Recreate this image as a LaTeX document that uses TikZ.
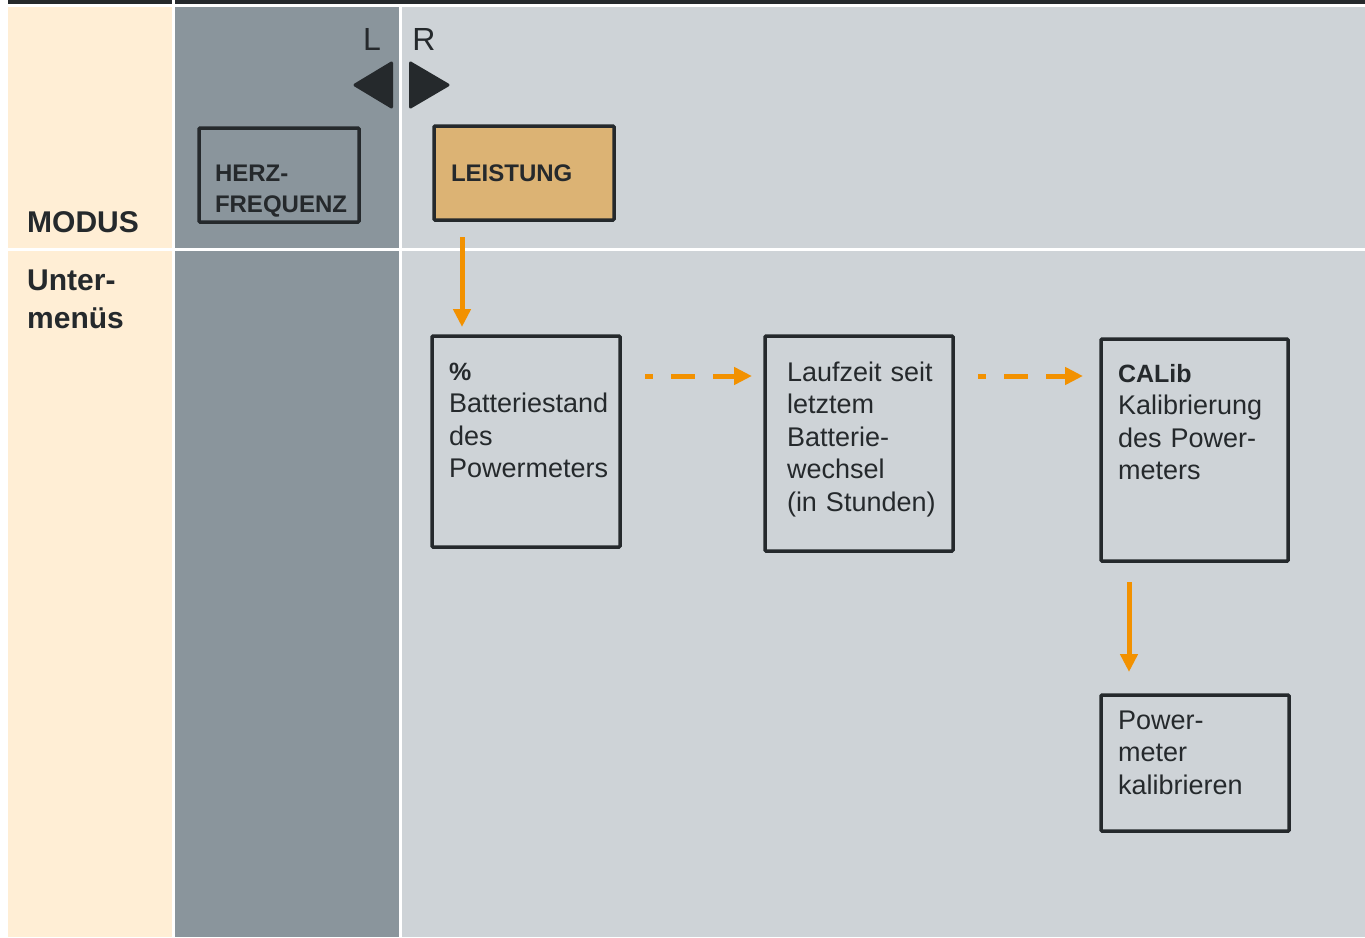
\documentclass[tikz,border=0pt]{standalone}
\usepackage{fontspec}
\setmainfont{Liberation Sans}
\usepackage{xcolor}
\usepackage{tikz}
\usetikzlibrary{arrows.meta}
\definecolor{ink}{HTML}{25292C}
\definecolor{cream}{HTML}{FFEED5}
\definecolor{slate}{HTML}{8A959C}
\definecolor{mist}{HTML}{CED3D7}
\definecolor{modetan}{HTML}{DCB374}
\definecolor{signal}{HTML}{F29100}
\newcommand{\bodyfont}{\fontsize{27}{32.5}\selectfont}
\newcommand{\boldfont}{\fontsize{25}{32.5}\selectfont\bfseries}
\newcommand{\capsfont}{\fontsize{24}{31}\selectfont\bfseries}
\newcommand{\headfont}{\fontsize{30}{38}\selectfont\bfseries}
\hyphenpenalty=10000

\begin{document}
\begin{tikzpicture}[x=1pt, y=-1pt,
    menubox/.style={draw=ink, line width=3.5pt, rounded corners=1pt, anchor=north west,
                    outer sep=0pt, inner xsep=17pt, inner ysep=0pt, align=left,
                    text=ink, font=\bodyfont},
    modebox/.style={menubox, font=\capsfont},
    rowlabel/.style={anchor=base west, inner sep=0pt, text=ink, font=\headfont},
    flow/.style={draw=signal, line width=5pt, -{Triangle[length=18pt, width=17pt]}},
    skip/.style={flow, dash pattern=on 24pt off 18pt, dash phase=16pt}]
  \useasboundingbox (0,0) rectangle (1365,937);
  \fill[white] (0,0) rectangle (1365,937);

  % columns and rows
  \fill[ink] (8,0) rectangle (172,4);
  \fill[ink] (175,0) rectangle (1365,4);
  \foreach \top/\bot in {7/248, 251/937} {
    \fill[cream] (8,\top) rectangle (172,\bot);
    \fill[slate] (175,\top) rectangle (399,\bot);
    \fill[mist] (402,\top) rectangle (1365,\bot);
  }

  \node[rowlabel] (modus) at (27,232) {MODUS};
  \node[rowlabel, text width=140pt, align=left] (unter) at (27,290) {Unter-\\menüs};

  % L / R keys
  \node[anchor=base, inner sep=0pt, text=ink, font=\fontsize{32}{38}\selectfont] (lkey) at (372,50) {L};
  \node[anchor=base, inner sep=0pt, text=ink, font=\fontsize{32}{38}\selectfont] (rkey) at (424,50) {R};
  \filldraw[ink, line width=3pt, line join=round] (355,85) -- (391.5,63) -- (391.5,107) -- cycle;
  \filldraw[ink, line width=3pt, line join=round] (410.5,63) -- (448,85) -- (410.5,107) -- cycle;

  % modes
  \node[modebox, inner xsep=16pt, text width=128pt, text height=53pt, text depth=41pt]
    (herz) at (199,128) {HERZ-\\FREQUENZ};
  \node[modebox, fill=modetan, text width=146pt, text height=55pt, text depth=39pt]
    (leistung) at (434,126) {LEISTUNG};

  % submenus
  \node[menubox, text width=154pt, text height=44pt, text depth=167pt]
    (batt) at (432,336) {{\boldfont\%}\\Batteriestand\\des\\Powermeters};
  \node[menubox, inner xsep=22pt, text width=144pt, text height=45pt, text depth=170pt]
    (lauf) at (765,336) {Laufzeit~seit\\letztem\\Batterie-\\wechsel\\(in~Stunden)};
  \node[menubox, text width=153pt, text height=43pt, text depth=179pt]
    (calib) at (1101,339) {{\boldfont CALib}\\Kalibrierung\\des~Power-\\meters};
  \node[menubox, text width=154pt, text height=34pt, text depth=102pt]
    (power) at (1101,695) {Power-\\meter\\kalibrieren};

  \draw[flow] ([xshift=28pt, yshift=-17pt]leistung.south west) -- ([xshift=30pt, yshift=9pt]batt.north west);
  \draw[skip] ([xshift=25pt, yshift=-40pt]batt.north east) -- ([xshift=-13pt, yshift=-40pt]lauf.north west);
  \draw[skip] ([xshift=25pt, yshift=-40pt]lauf.north east) -- ([xshift=-18pt, yshift=-37pt]calib.north west);
  \draw[flow] ([xshift=28pt, yshift=-21pt]calib.south west) -- ([xshift=28pt, yshift=23pt]power.north west);
\end{tikzpicture}
\end{document}
